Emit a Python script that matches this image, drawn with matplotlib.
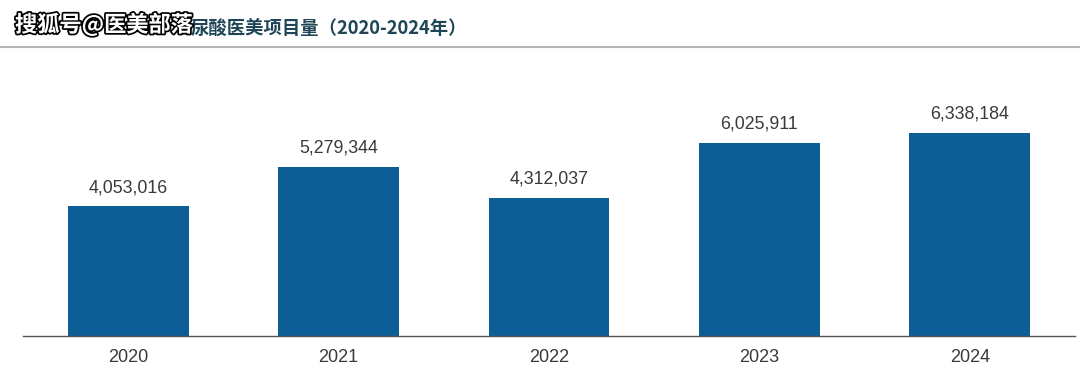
import matplotlib
matplotlib.use("Agg")
import matplotlib.pyplot as plt
import matplotlib.patheffects as pe

plt.rcParams['font.family'] = ['Liberation Sans', 'Noto Sans CJK SC', 'DejaVu Sans']

years = ['2020', '2021', '2022', '2023', '2024']
volumes = [4053016, 5279344, 4312037, 6025911, 6338184]

# the start of the title is hidden under the watermark in the reference
title = '尿酸医美项目量（2020-2024年）'
watermark = '搜狐号@医美部落'

bar_color = '#0d5d96'
text_color = '#3a3a3a'

fig = plt.figure(figsize=(10.8, 3.76), dpi=100)
ax = fig.add_axes([23 / 1080, 1 - 336 / 376, 1052 / 1080, 276 / 376])

x = range(len(years))
bars = ax.bar(x, volumes, width=0.575, color=bar_color)
ax.bar_label(bars, labels=[f'{v:,}' for v in volumes], padding=7,
             fontsize=12.8, color=text_color)

ax.set_xlim(-0.5, len(years) - 0.5)
ax.set_ylim(0, 8.6e6)
ax.set_xticks(list(x))
ax.set_xticklabels(years, fontsize=13, color=text_color)
ax.tick_params(axis='x', length=0, pad=9)
ax.set_yticks([])
for side in ['top', 'right', 'left']:
    ax.spines[side].set_visible(False)
ax.spines['bottom'].set_color('#555555')
ax.spines['bottom'].set_linewidth(1.0)

# header rule
fig.add_artist(plt.Line2D([0, 1], [1 - 47 / 376] * 2, color='#b5b5b5', lw=1.5))

fig.text(191 / 1080, 1 - 28 / 376, title, fontsize=13.2, fontweight='bold',
         color='#1f4656', va='center', ha='left',
         family=['Noto Sans CJK SC', 'DejaVu Sans'])
fig.text(15 / 1080, 1 - 25 / 376, watermark, fontsize=16, fontweight='bold',
         color='white', va='center', ha='left',
         family=['Noto Sans CJK SC', 'DejaVu Sans'],
         path_effects=[pe.withStroke(linewidth=2.5, foreground='black')])

fig.savefig('out.png', dpi=100, facecolor='white')
